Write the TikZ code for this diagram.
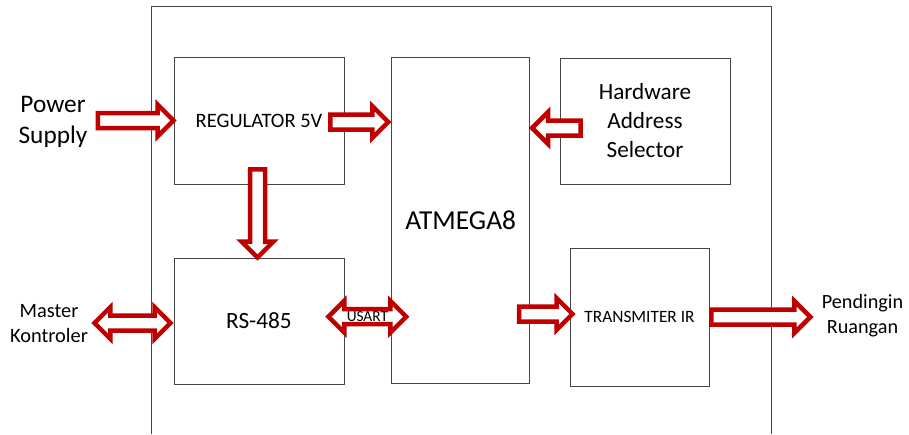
\documentclass[tikz,border=0pt]{standalone}
\usepackage{fontspec}
\setmainfont{Carlito}
\usepackage{tikz}
\usetikzlibrary{calc,positioning}
\usepackage{xcolor}
\definecolor{cRed}{RGB}{192,0,0}
\definecolor{cLine}{RGB}{70,70,70}

% block arrow from tail #1 to tip #2 (named coordinates)
\newcommand{\blockarrow}[2]{%
  \coordinate (#1-h) at ($(#2)!16pt!(#1)$);
  \filldraw[barrow] ($(#1)!7.5pt!90:(#2)$) -- ($(#1-h)!7.5pt!90:(#2)$)
    -- ($(#1-h)!16pt!90:(#2)$) -- (#2) -- ($(#1-h)!16pt!-90:(#2)$)
    -- ($(#1-h)!7.5pt!-90:(#2)$) -- ($(#1)!7.5pt!-90:(#2)$) -- cycle;}
% block arrow with two heads
\newcommand{\dblarrow}[2]{%
  \coordinate (#1-h) at ($(#1)!16pt!(#2)$);
  \coordinate (#2-h) at ($(#2)!16pt!(#1)$);
  \filldraw[barrow] (#1) -- ($(#1-h)!16pt!90:(#2)$) -- ($(#1-h)!7.5pt!90:(#2)$)
    -- ($(#2-h)!7.5pt!90:(#2)$) -- ($(#2-h)!16pt!90:(#2)$) -- (#2)
    -- ($(#2-h)!16pt!-90:(#2)$) -- ($(#2-h)!7.5pt!-90:(#2)$)
    -- ($(#1-h)!7.5pt!-90:(#2)$) -- ($(#1-h)!16pt!-90:(#2)$) -- cycle;}

\tikzset{
  box/.style={draw=cLine, line width=0.9pt, align=center},
  txt/.style={align=center},
  barrow/.style={draw=cRed, fill=white, line width=4.5pt, line join=miter},
}

\begin{document}
\begin{tikzpicture}[x=1pt, y=-1pt]
  \useasboundingbox (0,0) rectangle (909,434);
  % Outer frame
  \draw[cLine, line width=0.9pt] (151,434) |- (771,6.5) -- (771,434);
  % Blocks
  \node[box, minimum width=170pt, minimum height=127pt,
    font=\fontsize{20.5}{24}\selectfont] (reg) at (259,120.5) {REGULATOR 5V};
  \node[box, minimum width=170pt, minimum height=126pt,
    font=\fontsize{23.3}{28}\selectfont] (rs) at (259,321) {RS-485};
  \node[box, minimum width=138pt, minimum height=326pt,
    font=\fontsize{27.4}{32}\selectfont] (atm) at (460.7,220.7) {ATMEGA8};
  \node[box, minimum width=170pt, minimum height=126pt,
    font=\fontsize{23.2}{29}\selectfont] (has) at (645,121) {Hardware\\Address\\Selector};
  \node[box, minimum width=139pt, minimum height=138pt,
    font=\fontsize{17.3}{21}\selectfont] (tr) at (639.5,317) {TRANSMITER IR};
  % Outside labels
  \node[txt, font=\fontsize{25.3}{31}\selectfont] (ps) at (53,122) {Power\\Supply};
  \node[txt, font=\fontsize{20.4}{25}\selectfont] (mk) at (49,324) {Master\\Kontroler};
  \node[txt, font=\fontsize{20.2}{25}\selectfont] (pd) at (862.5,316) {Pendingin\\Ruangan};
  % Arrow ends
  \coordinate (psH) at (reg.west);
  \coordinate (psT) at ($(ps.east |- psH)+(7,0)$);
  \coordinate (regT) at ($(reg.east)+(-14,1.5)$);
  \coordinate (regH) at ($(atm.west |- regT)+(-3,0)$);
  \coordinate (hasT) at ($(has.west)+(21,7)$);
  \coordinate (hasH) at ($(atm.east |- hasT)+(2,0)$);
  \coordinate (downT) at ($(reg.south)+(-1.5,-15)$);
  \coordinate (downH) at (downT |- rs.north);
  \coordinate (mkT) at ($(mk.east)+(3,-1)$);
  \coordinate (mkH) at ($(rs.west |- mkT)+(-3,0)$);
  \coordinate (usL) at ($(rs.east)+(-16,-4.3)$);
  \coordinate (usR) at ($(atm.west |- usL)+(15,0)$);
  \coordinate (atT) at ($(atm.east |- tr.west)+(-11,-3)$);
  \coordinate (atH) at ($(tr.west |- atT)+(3,0)$);
  \coordinate (trT) at ($(tr.east)+(2,0)$);
  \coordinate (pdH) at ($(pd.west |- trT)+(-8,0)$);
  % Arrows
  \blockarrow{psT}{psH}
  \blockarrow{regT}{regH}
  \blockarrow{hasT}{hasH}
  \blockarrow{downT}{downH}
  \dblarrow{mkT}{mkH}
  \dblarrow{usL}{usR}
  \blockarrow{atT}{atH}
  \blockarrow{trT}{pdH}
  \node[font=\fontsize{15.3}{18}\selectfont] (usart) at ($(usL)!0.5!(usR)$) {USART};
\end{tikzpicture}
\end{document}
